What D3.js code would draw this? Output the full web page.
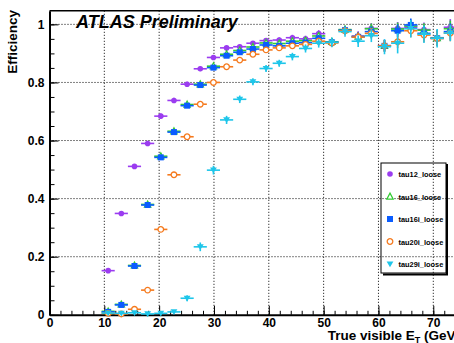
<!DOCTYPE html>
<html>
<head>
<meta charset="utf-8">
<title>tau trigger efficiency</title>
<script src="https://cdn.jsdelivr.net/npm/d3@7"></script>
<style>
  body { margin: 0; background: #fff; }
  svg { font-family: "Liberation Sans", Arial, sans-serif; }
  .axis text { font-size: 12px; font-weight: bold; fill: #000; }
  .axis path, .axis line { stroke: #000; }
  .grid line { stroke: #000; stroke-width: 1; stroke-dasharray: 1,2; }
</style>
</head>
<body>
<script>
// bin centres (GeV)
const binX = [10.7, 13.1, 15.5, 17.9, 20.3, 22.7, 25.1, 27.5, 29.9, 32.3, 34.7, 37.1, 39.5, 41.9,
  44.3, 46.7, 49.1, 51.5, 53.9, 56.3, 58.7, 61.1, 63.5, 65.9, 68.3, 70.7, 73.1];
const binHalf = 1.2;

const tau12 = [0.152, 0.349, 0.511, 0.590, 0.684, 0.738, 0.794, 0.847, 0.886, 0.919, 0.923, 0.935, 0.944, 0.946,
  0.954, 0.950, 0.968, 0.940, 0.980, 0.960, 0.986, 0.927, 0.986, 0.990, 0.982, 0.954, 0.990];
const tau16 = [0.012, 0.036, 0.170, 0.380, 0.546, 0.632, 0.724, 0.794, 0.856, 0.897, 0.910, 0.922, 0.936, 0.934,
  0.942, 0.944, 0.960, 0.940, 0.982, 0.958, 0.985, 0.926, 0.984, 0.994, 0.980, 0.953, 0.985];
const tau16i = [0.010, 0.034, 0.168, 0.378, 0.542, 0.629, 0.720, 0.791, 0.851, 0.892, 0.904, 0.915, 0.929, 0.926,
  0.935, 0.937, 0.952, 0.938, 0.980, 0.957, 0.975, 0.926, 0.978, 0.998, 0.969, 0.952, 0.975];
const tau20i = [0.005, 0.003, 0.019, 0.085, 0.294, 0.482, 0.613, 0.725, 0.800, 0.854, 0.877, 0.897, 0.912, 0.919,
  0.926, 0.931, 0.942, 0.936, 0.978, 0.956, 0.969, 0.926, 0.940, 0.978, 0.963, 0.951, 0.970];
const tau29i = [0.006, 0.005, 0.007, 0.003, 0.005, 0.010, 0.057, 0.234, 0.498, 0.671, 0.742, 0.802, 0.848, 0.866,
  0.889, 0.917, 0.935, 0.938, 0.975, 0.942, 0.961, 0.923, 0.935, 0.985, 0.966, 0.952, 0.970];

// statistical errors
const errCommon = [0.004, 0.006, 0.008, 0.009, 0.009, 0.009, 0.008, 0.008, 0.007, 0.007, 0.007, 0.008, 0.008, 0.009,
  0.010, 0.011, 0.012, 0.013, 0.014, 0.016, 0.018, 0.020, 0.022, 0.022, 0.024, 0.026, 0.028];
const errTau29i = [0.003, 0.003, 0.004, 0.003, 0.004, 0.005, 0.010, 0.015, 0.015, 0.014, 0.013, 0.012, 0.012, 0.012,
  0.013, 0.014, 0.015, 0.017, 0.018, 0.020, 0.022, 0.026, 0.035, 0.030, 0.030, 0.032, 0.028];

const seriesNames = ["tau12_loose", "tau16_loose", "tau16i_loose", "tau20i_loose", "tau29i_loose"];
const xTicks = [0, 10, 20, 30, 40, 50, 60, 70];
const yTicks = [0, 0.2, 0.4, 0.6, 0.8, 1];

const width = 454, height = 343;

const series = [
  { name: seriesNames[0], values: tau12, err: errCommon, color: "#9b3cf0", shape: "circle" },
  { name: seriesNames[1], values: tau16, err: errCommon, color: "#33cc33", shape: "triUp" },
  { name: seriesNames[2], values: tau16i, err: errCommon, color: "#0a5cff", shape: "square" },
  { name: seriesNames[3], values: tau20i, err: errCommon, color: "#f57a1e", shape: "openCircle" },
  { name: seriesNames[4], values: tau29i, err: errTau29i, color: "#1ec6ea", shape: "triDown" }
];

const svg = d3.select("body").append("svg")
  .attr("width", width)
  .attr("height", height);

const x = d3.scaleLinear().domain([0, 75]).range([49.5, 460.7]);
const y = d3.scaleLinear().domain([0, 1.047]).range([314.8, 10.7]);

// grid
const grid = svg.append("g").attr("class", "grid");
grid.selectAll("line.gx")
  .data(xTicks.filter(d => d > 0))
  .join("line")
  .attr("x1", d => x(d)).attr("x2", d => x(d))
  .attr("y1", y.range()[0]).attr("y2", y.range()[1]);
grid.selectAll("line.gy")
  .data(yTicks.filter(d => d > 0))
  .join("line")
  .attr("class", "gy")
  .attr("x1", x.range()[0]).attr("x2", x.range()[1])
  .attr("y1", d => y(d)).attr("y2", d => y(d));

// minor ticks
svg.append("g")
  .attr("class", "axis")
  .attr("transform", "translate(0," + y(0) + ")")
  .call(d3.axisBottom(x).tickValues(d3.range(0, 75, 2)).tickSize(-4).tickFormat(""))
  .call(g => g.select(".domain").remove());
svg.append("g")
  .attr("class", "axis")
  .attr("transform", "translate(" + x(0) + ",0)")
  .call(d3.axisLeft(y).tickValues(d3.range(0, 1.04, 0.05)).tickSize(-5).tickFormat(""))
  .call(g => g.select(".domain").remove());

// major ticks and labels
svg.append("g")
  .attr("class", "axis")
  .attr("transform", "translate(0," + y(0) + ")")
  .call(d3.axisBottom(x).tickValues(xTicks).tickSize(-9).tickSizeOuter(0).tickPadding(4).tickFormat(d3.format("d")))
  .call(g => g.select(".domain").attr("stroke-width", 2));
svg.append("g")
  .attr("class", "axis")
  .attr("transform", "translate(" + x(0) + ",0)")
  .call(d3.axisLeft(y).tickValues(yTicks).tickSize(-9).tickSizeOuter(0).tickPadding(5).tickFormat(d3.format("~g")))
  .call(g => g.select(".domain").attr("stroke-width", 2));

// frame top and right
svg.append("path")
  .attr("d", "M" + x.range()[0] + "," + y.range()[1] + "H" + x.range()[1] + "V" + y.range()[0])
  .attr("fill", "none").attr("stroke", "#000").attr("stroke-width", 1.5);

// symbols
function drawMarker(g, shape, color) {
  if (shape === "circle") {
    g.append("circle").attr("r", 2.8).attr("fill", color);
  } else if (shape === "openCircle") {
    g.append("circle").attr("r", 2.8).attr("fill", "#fff").attr("stroke", color).attr("stroke-width", 1.3);
  } else if (shape === "square") {
    g.append("rect").attr("x", -3).attr("y", -3).attr("width", 6).attr("height", 6).attr("fill", color);
  } else if (shape === "triUp") {
    g.append("path").attr("d", "M0,-3.4L3.2,2.6L-3.2,2.6Z").attr("fill", "#fff").attr("stroke", color).attr("stroke-width", 1.2);
  } else if (shape === "triDown") {
    g.append("path").attr("d", "M-3.4,-2.6L3.4,-2.6L0,3.2Z").attr("fill", color);
  }
}

series.forEach(s => {
  const pts = binX.map((bx, i) => ({ x: bx, v: s.values[i], e: s.err[i] }));
  const g = svg.append("g");
  g.selectAll("line.h")
    .data(pts)
    .join("line")
    .attr("x1", d => x(d.x - binHalf)).attr("x2", d => x(d.x + binHalf))
    .attr("y1", d => y(d.v)).attr("y2", d => y(d.v))
    .attr("stroke", s.color).attr("stroke-width", 1.6);
  g.selectAll("line.v")
    .data(pts)
    .join("line")
    .attr("x1", d => x(d.x)).attr("x2", d => x(d.x))
    .attr("y1", d => y(Math.max(0, d.v - d.e))).attr("y2", d => y(Math.min(1.047, d.v + d.e)))
    .attr("stroke", s.color).attr("stroke-width", 1.6);
  pts.forEach(d => {
    const m = g.append("g").attr("transform", "translate(" + x(d.x) + "," + y(d.v) + ")");
    drawMarker(m, s.shape, s.color);
  });
});

// axis titles
svg.append("text")
  .attr("transform", "translate(17,10) rotate(-90)")
  .attr("text-anchor", "end")
  .attr("font-size", 13.5).attr("font-weight", "bold")
  .text("Efficiency");

const xt = svg.append("text")
  .attr("x", 460).attr("y", 340)
  .attr("text-anchor", "end")
  .attr("font-size", 13.5).attr("font-weight", "bold");
xt.append("tspan").text("True visible E");
xt.append("tspan").attr("font-size", 9).attr("dy", 3).text("T");
xt.append("tspan").attr("dy", -3).text(" (GeV)");

svg.append("text")
  .attr("x", 76).attr("y", 28)
  .attr("font-size", 18).attr("font-weight", "bold").attr("font-style", "italic")
  .text("ATLAS Preliminary");

// legend
const lg = svg.append("g");
lg.append("rect")
  .attr("x", 381).attr("y", 163).attr("width", 65).attr("height", 110)
  .attr("fill", "none").attr("stroke", "#000").attr("stroke-width", 1);
lg.append("path")
  .attr("d", "M383,274.5H447V164")
  .attr("fill", "none").attr("stroke", "#000").attr("stroke-width", 2);
const legY = d3.scalePoint().domain(seriesNames).range([174, 264]);
series.forEach(s => {
  const m = lg.append("g").attr("transform", "translate(390," + legY(s.name) + ")");
  drawMarker(m, s.shape, s.color);
  lg.append("text")
    .attr("x", 398.5).attr("y", legY(s.name) + 3)
    .attr("font-size", 7.4).attr("font-weight", "bold")
    .text(s.name);
});
</script>
</body>
</html>
